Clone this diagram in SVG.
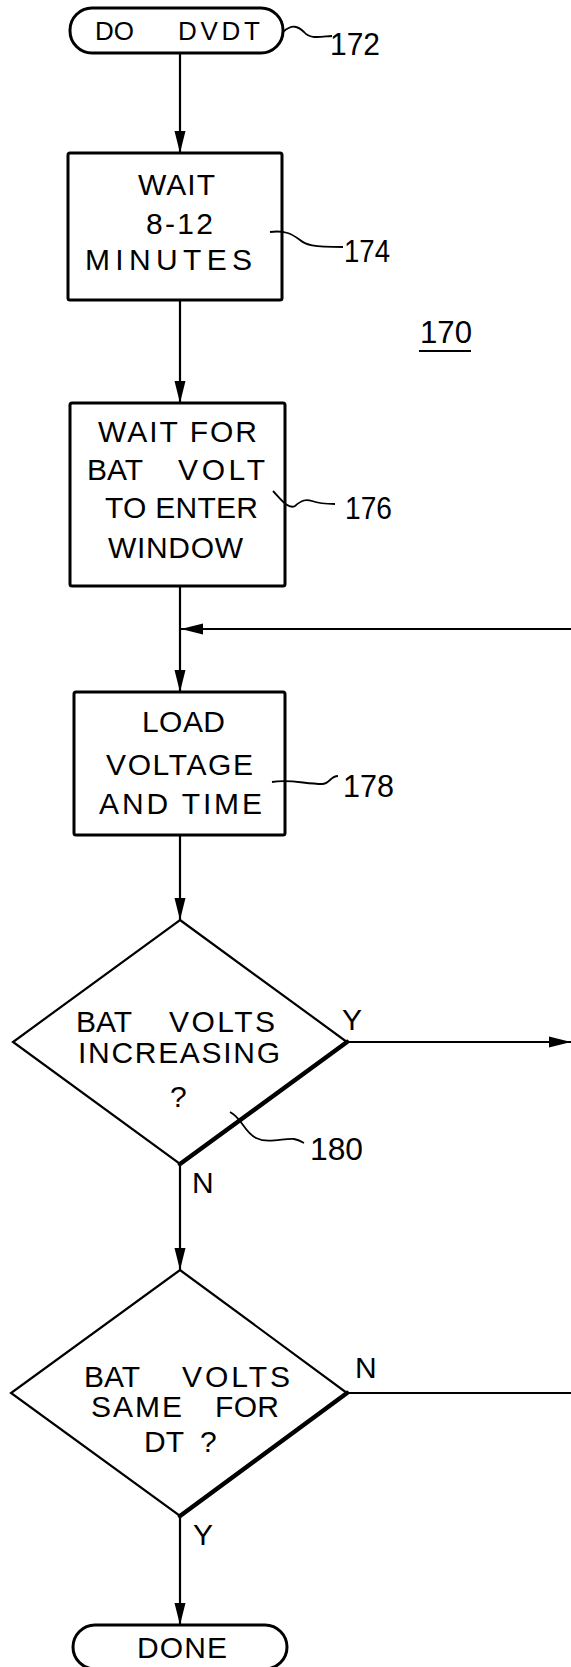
<svg xmlns="http://www.w3.org/2000/svg" width="571" height="1667" viewBox="0 0 571 1667">
<style>
.box{fill:#fff;stroke:#000;stroke-width:3}
.dia{fill:#fff;stroke:#000;stroke-width:2.2;stroke-linejoin:miter}
.thick{fill:none;stroke:#000;stroke-width:4.5;stroke-linecap:round}
.ln{fill:none;stroke:#000;stroke-width:2.2}
.ld{fill:none;stroke:#000;stroke-width:1.8}
text{font-family:"Liberation Sans","DejaVu Sans",sans-serif;fill:#000}
.t{font-size:30px}
.s{font-size:26px}
.n{font-size:32px}
</style>
<defs>
<marker id="ah" markerUnits="userSpaceOnUse" markerWidth="24" markerHeight="12" refX="22" refY="6" orient="auto">
<path d="M0,0.5 L22,6 L0,11.5 z" fill="#000"/>
</marker>
</defs>
<g id="connectors">
<line class="ln" x1="180" y1="53" x2="180" y2="153" marker-end="url(#ah)"/>
<line class="ln" x1="180" y1="300" x2="180" y2="403" marker-end="url(#ah)"/>
<line class="ln" x1="180" y1="586" x2="180" y2="692" marker-end="url(#ah)"/>
<line class="ln" x1="571" y1="629" x2="181" y2="629" marker-end="url(#ah)"/>
<line class="ln" x1="180" y1="835" x2="180" y2="920" marker-end="url(#ah)"/>
<line class="ln" x1="348" y1="1042" x2="571" y2="1042" marker-end="url(#ah)"/>
<line class="ln" x1="180" y1="1164" x2="180" y2="1270" marker-end="url(#ah)"/>
<line class="ln" x1="348" y1="1393" x2="571" y2="1393"/>
<line class="ln" x1="180" y1="1516" x2="180" y2="1625" marker-end="url(#ah)"/>
<text class="t" x="342" y="1030">Y</text>
<text class="t" x="192" y="1193">N</text>
<text class="t" x="355" y="1378">N</text>
<text class="t" x="193" y="1545">Y</text>
</g>
<g id="n172">
<rect class="box" x="70" y="8" width="213" height="45" rx="22" ry="22"/>
<text class="s" y="40"><tspan x="95">DO</tspan><tspan> </tspan><tspan x="178" textLength="82" lengthAdjust="spacing">DVDT</tspan></text>
<path class="ld" d="M283,32 C292,24 298,26 304,32 C310,39 318,37 332,36"/>
<text class="n" x="330" y="55" textLength="50" lengthAdjust="spacingAndGlyphs">172</text>
</g>
<g id="n174">
<rect class="box" x="68" y="153" width="214" height="147" rx="2"/>
<text class="t" x="138" y="195" textLength="77" lengthAdjust="spacing">WAIT</text>
<text class="t" x="146" y="234" textLength="67" lengthAdjust="spacing">8-12</text>
<text class="t" x="85" y="270" textLength="167" lengthAdjust="spacing">MINUTES</text>
<path class="ld" d="M270,232 C285,230 292,234 300,240 C306,245 312,247 343,247"/>
<text class="n" x="344" y="262" textLength="46" lengthAdjust="spacingAndGlyphs">174</text>
</g>
<g id="n170">
<text class="n" x="420" y="343" textLength="52" lengthAdjust="spacingAndGlyphs">170</text>
<line class="ln" x1="419" y1="351" x2="471" y2="351"/>
</g>
<g id="n176">
<rect class="box" x="70" y="403" width="215" height="183" rx="2"/>
<text class="t" x="98" y="442" textLength="159" lengthAdjust="spacing">WAIT FOR</text>
<text class="t" y="480"><tspan x="87">BAT</tspan><tspan> </tspan><tspan x="178" textLength="87" lengthAdjust="spacing">VOLT</tspan></text>
<text class="t" x="105" y="518" textLength="153" lengthAdjust="spacing">TO ENTER</text>
<text class="t" x="108" y="558" textLength="135" lengthAdjust="spacing">WINDOW</text>
<path class="ld" d="M273,491 C280,498 288,510 295,506 C302,500 306,499 312,501 C320,504 326,504 335,504"/>
<text class="n" x="345" y="519" textLength="47" lengthAdjust="spacingAndGlyphs">176</text>
</g>
<g id="n178">
<rect class="box" x="74" y="692" width="211" height="143" rx="2"/>
<text class="t" x="142" y="732" textLength="83" lengthAdjust="spacing">LOAD</text>
<text class="t" x="106" y="775" textLength="147" lengthAdjust="spacing">VOLTAGE</text>
<text class="t" x="99" y="814" textLength="163" lengthAdjust="spacing">AND TIME</text>
<path class="ld" d="M272,782 C290,779 305,784 322,784 C330,784 330,776 338,776"/>
<text class="n" x="343" y="797" textLength="51" lengthAdjust="spacingAndGlyphs">178</text>
</g>
<g id="n180">
<polygon class="dia" points="180,920 347,1042 180,1164 13,1042"/>
<line class="thick" x1="347" y1="1042" x2="180" y2="1164"/>
<text class="t" y="1032"><tspan x="76">BAT</tspan><tspan> </tspan><tspan x="169" textLength="106" lengthAdjust="spacing">VOLTS</tspan></text>
<text class="t" x="78" y="1063" textLength="202" lengthAdjust="spacing">INCREASING</text>
<text class="t" x="170" y="1107">?</text>
<path class="ld" d="M230,1112 C242,1118 244,1132 256,1138 C268,1144 284,1138 294,1139 C300,1140 302,1142 304,1143"/>
<text class="n" x="310" y="1160" textLength="53" lengthAdjust="spacingAndGlyphs">180</text>
</g>
<g id="n182">
<polygon class="dia" points="180,1270 347,1393 180,1516 11,1393"/>
<line class="thick" x1="347" y1="1393" x2="180" y2="1516"/>
<text class="t" y="1387"><tspan x="84">BAT</tspan><tspan> </tspan><tspan x="182" textLength="108" lengthAdjust="spacing">VOLTS</tspan></text>
<text class="t" y="1417"><tspan x="91" textLength="91" lengthAdjust="spacing">SAME</tspan><tspan> </tspan><tspan x="215" textLength="64" lengthAdjust="spacing">FOR</tspan></text>
<text class="t" y="1452"><tspan x="144">DT</tspan><tspan> </tspan><tspan x="200">?</tspan></text>
</g>
<g id="done">
<rect class="box" x="73" y="1625" width="214" height="44" rx="22" ry="22"/>
<text class="t" x="137" y="1658" textLength="90" lengthAdjust="spacing">DONE</text>
</g>
</svg>
